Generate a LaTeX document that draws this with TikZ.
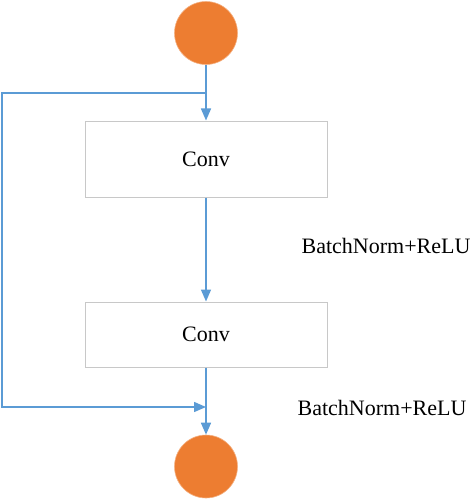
\documentclass[tikz,border=0pt]{standalone}
\usepackage{fontspec}
\setmainfont{Liberation Serif}
\usepackage{xcolor}
\usetikzlibrary{arrows.meta,positioning}

\definecolor{flowblue}{HTML}{5B9BD5}
\definecolor{dotorange}{HTML}{ED7D31}
\definecolor{boxgray}{HTML}{C8C8C8}

\begin{document}
\begin{tikzpicture}[x=1pt, y=-1pt,
    dot/.style={circle, fill=dotorange, draw=dotorange!60!white, line width=0.6pt, minimum size=63pt, inner sep=0pt},
    layer/.style={draw=boxgray, line width=1pt, rectangle, minimum width=242pt, font=\fontsize{22}{26}\selectfont},
    flow/.style={draw=flowblue, line width=1.5pt, -{Triangle[length=12pt, width=10pt]}},
    lbl/.style={font=\fontsize{22}{26}\selectfont}]
    \useasboundingbox (0,0) rectangle (473,500);

    \node[dot] (input) at (206,33) {};
    \node[layer, minimum height=76pt] (conv1) at (206,159) {Conv};
    \node[layer, minimum height=65pt] (conv2) at (206,334.5) {Conv};
    \node[dot] (output) at (206,466.5) {};

    \coordinate (split) at (206,93);
    \coordinate (join) at (206,407);

    \draw[flow] (input) -- (conv1);
    \draw[flow] (conv1) -- (conv2);
    \draw[flow] (conv2) -- (output);
    \draw[flow] (split) -- (2,93) -- (2,407) -- (join);

    \node[lbl] (bn1) at (386,246) {BatchNorm+ReLU};
    \node[lbl] (bn2) at (382,408) {BatchNorm+ReLU};
\end{tikzpicture}
\end{document}
